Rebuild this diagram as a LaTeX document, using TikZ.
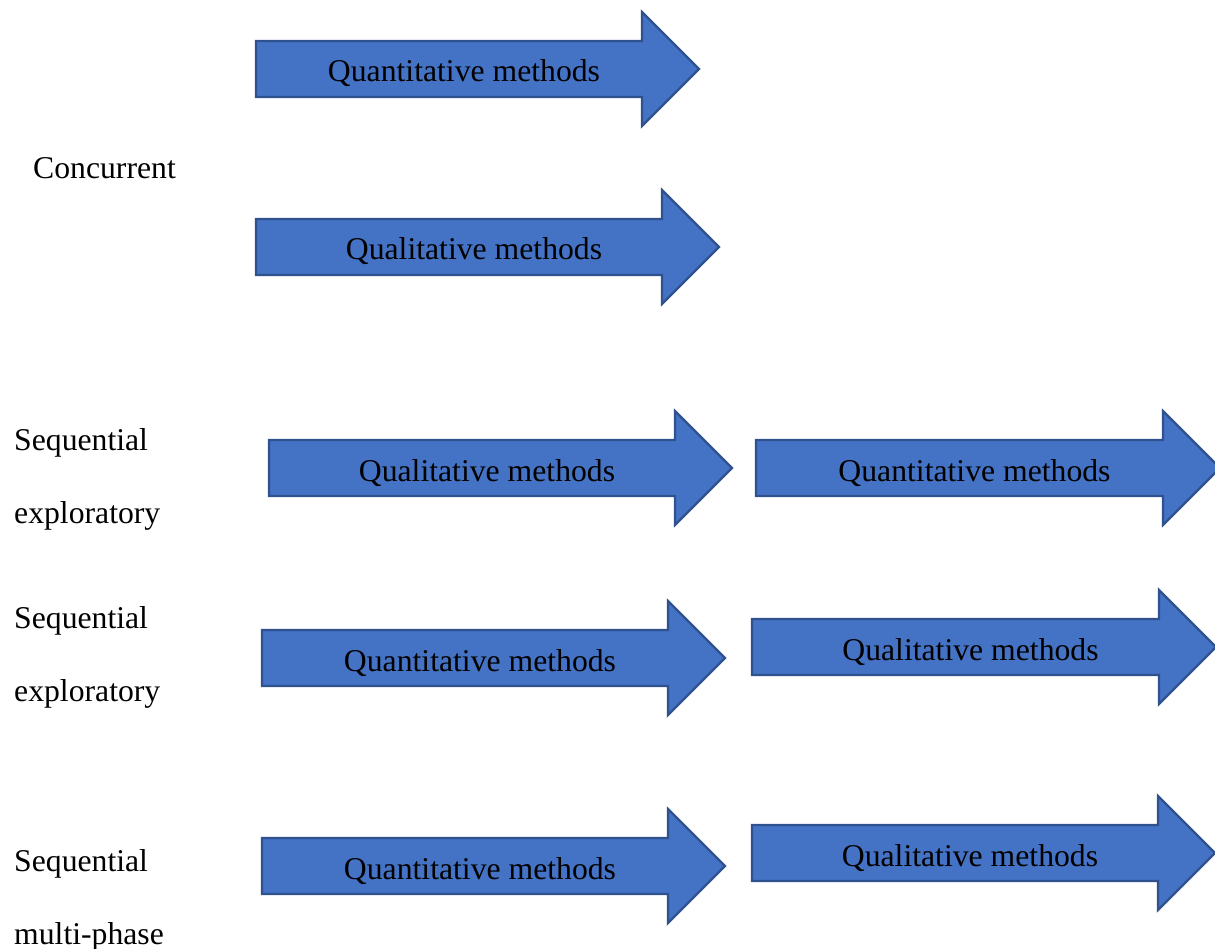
\documentclass[tikz,border=0pt]{standalone}
\usepackage{fontspec}
\setmainfont{Liberation Serif}
\usepackage{xcolor}

\definecolor{arrowblue}{HTML}{4472C4}
\definecolor{arrowedge}{HTML}{2F528F}

% block arrow: name, left x, head base x, centre y, text
\newcommand{\methodarrow}[5]{%
  \draw[arrowbox] (#2,#4-28) -- (#3,#4-28) -- (#3,#4-57) -- (#3+57,#4)
    -- (#3,#4+57) -- (#3,#4+28) -- (#2,#4+28) -- cycle;
  \node[methodtext] (#1) at ({(#2+#3)/2+15},#4+13) {#5};
}

\begin{document}
\begin{tikzpicture}[x=1pt, y=-1pt]
  % Define styles
  \tikzset{
    arrowbox/.style={fill=arrowblue, draw=arrowedge, line width=2.2pt, line join=miter},
    methodtext/.style={anchor=base, inner sep=0pt, font=\fontsize{31.7}{38}\selectfont},
    designlabel/.style={anchor=base west, inner sep=0pt, font=\fontsize{31.7}{38}\selectfont}
  }
  \useasboundingbox (0,0) rectangle (1215,949);

  % Concurrent
  \methodarrow{concQuan}{256}{642}{69}{Quantitative methods}
  \methodarrow{concQual}{256}{662}{247}{Qualitative methods}
  \node[designlabel] (lblConc) at (33,179) {Concurrent};

  % Sequential exploratory (qualitative first)
  \methodarrow{explQual}{269}{675}{468}{Qualitative methods}
  \methodarrow{explQuan}{756}{1163}{468}{Quantitative methods}
  \node[designlabel] (lblExplA) at (14,450) {Sequential};
  \node[designlabel] (lblExplB) at (14,523) {exploratory};

  % Sequential exploratory (quantitative first)
  \methodarrow{seqQuan}{262}{668}{658}{Quantitative methods}
  \methodarrow{seqQual}{752}{1159}{647}{Qualitative methods}
  \node[designlabel] (lblSeqA) at (14,628) {Sequential};
  \node[designlabel] (lblSeqB) at (14,701) {exploratory};

  % Sequential multi-phase
  \methodarrow{multiQuan}{262}{668}{866}{Quantitative methods}
  \methodarrow{multiQual}{752}{1158}{853}{Qualitative methods}
  \node[designlabel] (lblMultiA) at (14,871) {Sequential};
  \node[designlabel] (lblMultiB) at (14,944) {multi-phase};
\end{tikzpicture}
\end{document}
